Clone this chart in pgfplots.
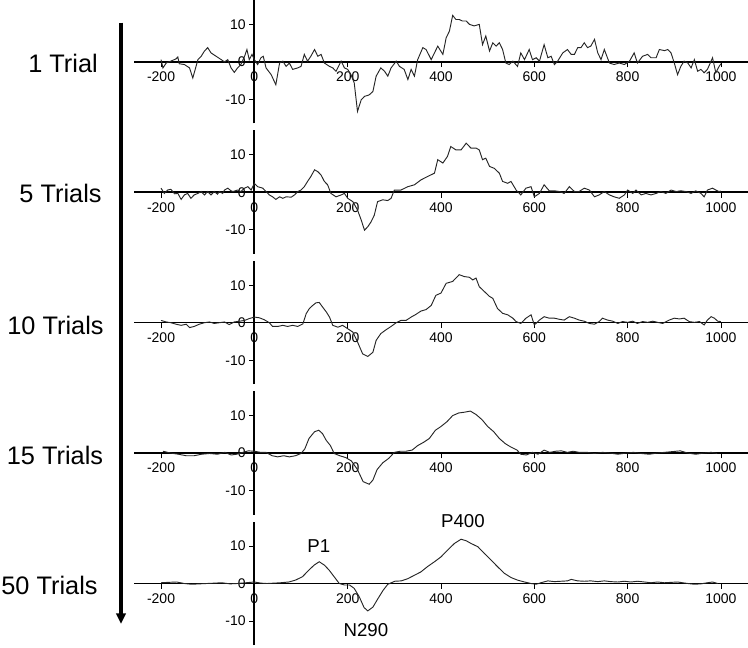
\documentclass[border=0pt]{standalone}
\usepackage{fontspec}
\setmainfont{Liberation Sans}
\usepackage{pgfplots}
\usepackage{pgfplotstable}
\pgfplotsset{compat=1.18}
\usetikzlibrary{arrows.meta}

% ERP waveforms (ms, microvolts)
\pgfplotstableread{
t v
-200 0.6
-196 -1.6
-189 -0.3
-179 0.2
-168 0.8
-164 1.3
-161 -0.5
-150 -0.7
-139 -1.6
-132 -4.3
-121 0.6
-114 1.5
-107 2.9
-100 3.8
-93 2.4
-82 1.5
-71 0.6
-64 0.0
-57 0.6
-50 -1.6
-43 -2.8
-36 -1.6
-29 -0.7
-21 1.5
-16 3.3
-11 0.6
-5 2.0
0 0.6
7 -0.7
14 1.1
19 1.5
25 -1.6
36 -3.4
46 -6.1
54 -0.3
61 0.2
68 -1.2
75 -0.3
82 -2.0
93 -1.6
100 -1.2
107 2.0
114 0.2
121 1.5
129 3.3
136 1.5
143 2.0
150 -0.3
161 -1.2
168 -1.6
175 -2.5
186 0.2
193 -1.6
200 -2.0
207 -3.4
214 -5.6
221 -13.2
229 -10.1
236 -9.2
246 -8.8
254 -7.9
261 -3.8
271 -1.6
279 -2.5
286 -3.8
293 -1.6
304 0.2
311 -1.2
321 -2.0
329 -4.7
336 -2.0
343 -3.8
350 0.6
361 3.8
368 3.3
379 0.6
386 2.4
393 4.2
404 2.0
411 6.4
418 8.2
425 12.4
432 11.3
439 11.3
446 10.9
454 10.9
461 10.0
471 9.6
482 10.0
489 4.6
496 6.9
504 2.9
511 5.1
518 4.2
525 5.1
532 3.3
539 -0.3
546 -0.7
554 0.2
564 -1.2
571 2.4
579 0.6
589 3.3
596 0.6
604 1.1
611 0.2
621 4.6
629 1.1
636 1.5
643 -0.7
650 0.2
661 2.4
671 3.3
679 2.0
686 2.0
693 3.8
700 3.8
707 5.1
714 3.8
721 4.2
729 6.0
736 2.4
743 0.6
750 3.3
761 -0.3
771 -0.7
782 -0.3
793 -0.7
804 0.2
814 2.4
821 -0.3
832 1.5
843 2.0
850 1.1
861 1.1
868 3.3
879 3.0
886 3.3
893 2.4
900 -0.3
907 -3.4
914 -1.2
921 0.2
929 -0.3
936 -1.6
943 0.6
950 -2.5
957 -2.0
964 -2.9
971 -2.0
982 1.1
989 -2.9
996 -1.2
1000 -0.5
}\trialA

\pgfplotstableread{
t v
-200 1.1
-193 -0.3
-186 0.6
-179 0.8
-171 -0.4
-164 -0.3
-157 -1.9
-150 -0.7
-143 -0.3
-136 -1.6
-129 -0.7
-121 -0.3
-114 0.2
-107 -0.7
-100 0.2
-93 -0.7
-86 0.2
-79 -0.5
-75 0.2
-68 -0.3
-64 0.6
-57 1.1
-50 0.4
-46 0.2
-36 0.6
-29 0.2
-21 1.1
-14 1.5
-7 0.6
0 2.4
7 1.5
18 1.1
25 0.2
32 -0.7
39 -1.2
46 -1.9
54 -1.2
61 -1.6
68 -1.2
79 -1.3
86 -0.7
93 0.2
100 0.6
107 1.5
114 2.9
121 4.2
129 6.0
136 5.5
143 4.6
150 2.9
157 2.0
164 -0.3
175 -1.2
186 -0.7
193 -0.3
200 -1.6
211 -2.5
221 -4.7
229 -7.4
236 -10.1
243 -9.2
250 -7.9
257 -6.1
264 -2.5
275 -2.0
286 -2.2
293 -1.6
300 0.6
314 0.6
329 1.5
343 2.0
357 3.3
371 4.2
386 5.1
393 8.7
404 7.8
414 9.6
421 12.2
432 11.3
443 11.3
454 13.1
464 11.8
475 11.8
482 11.3
489 8.7
496 9.1
504 6.9
514 6.4
525 5.1
532 2.9
543 2.4
550 2.9
561 0.6
571 -0.7
582 1.1
593 1.5
600 -1.2
611 -0.3
621 2.0
632 0.4
643 0.4
654 0.2
664 -0.3
675 1.5
686 0.2
696 0.2
707 1.1
718 0.6
729 -1.2
739 -0.7
750 0.2
761 -0.7
771 -1.2
782 -1.6
793 -0.7
800 0.6
811 -0.3
818 0.6
829 -0.7
839 -0.3
850 -0.7
861 -0.3
871 0.2
882 -0.3
893 0.6
904 0.2
914 0.4
925 0.2
936 -0.3
946 0.4
957 -0.3
964 -1.2
971 0.6
982 1.1
989 0.6
996 0.2
1000 0.3
}\trialB

\pgfplotstableread{
t v
-200 0.6
-189 0.2
-179 0.0
-168 -0.4
-157 -0.7
-146 -0.4
-139 -1.3
-129 -1.0
-118 -0.4
-107 0.0
-96 0.2
-86 -0.2
-75 0.0
-64 0.2
-54 -0.5
-43 0.2
-32 0.4
-21 0.6
-11 1.1
0 1.5
11 1.3
21 0.8
32 0.0
39 -1.0
50 -1.0
61 -0.7
71 -1.0
82 -0.7
93 -1.0
104 -0.3
111 2.4
118 3.8
125 4.6
132 5.3
139 5.4
146 4.2
154 2.9
161 1.5
168 -0.7
179 -1.2
189 -0.7
200 -1.6
211 -2.5
221 -5.1
232 -8.3
243 -9.0
254 -7.9
261 -4.7
271 -2.9
282 -1.9
293 -1.0
304 0.0
314 0.6
325 0.6
336 1.5
346 2.2
357 3.1
368 3.5
379 4.6
389 7.3
400 7.9
411 10.5
425 11.0
439 12.8
450 12.3
461 12.1
468 11.4
475 11.9
482 9.6
493 8.3
504 7.0
511 6.5
521 3.8
532 2.5
543 2.1
554 1.2
561 0.3
571 -0.2
582 1.2
593 2.1
600 -0.6
611 0.7
621 1.6
632 1.2
643 1.2
654 0.9
664 0.7
675 1.6
686 1.2
696 0.7
707 0.4
718 -0.2
729 -0.4
739 0.3
746 1.2
757 0.7
768 0.4
779 -0.2
789 0.3
800 0.1
811 0.4
821 -0.2
832 0.3
843 0.1
854 0.4
864 0.1
875 -0.2
889 0.7
900 1.2
911 1.0
921 1.2
932 0.3
943 0.1
954 0.3
964 -0.6
971 0.7
979 1.6
986 1.2
993 0.4
1000 0.3
}\trialC

\pgfplotstableread{
t v
-196 0.5
-179 0.0
-163 -0.3
-146 -0.7
-129 -0.7
-113 -0.3
-96 -0.1
-79 -0.3
-63 0.2
-50 -0.5
-38 -0.3
-25 0.2
-13 0.6
0 0.5
13 0.2
25 0.2
38 -0.7
50 -1.0
63 -0.7
75 -1.0
88 -0.7
100 -0.1
108 1.1
117 3.9
129 5.7
138 6.1
146 5.2
154 3.4
163 2.0
171 -0.1
183 -0.7
196 -1.2
208 -2.1
221 -4.4
233 -7.6
246 -8.3
254 -7.2
263 -4.4
275 -2.6
288 -1.4
300 0.2
313 0.5
325 0.5
338 0.8
350 2.0
363 2.9
375 3.9
388 6.1
400 7.1
413 8.4
425 10.0
438 10.7
450 10.9
463 11.2
475 10.3
488 8.9
500 7.1
513 5.7
525 3.9
538 2.5
550 1.6
563 0.8
571 -0.3
583 -0.5
596 0.2
608 -0.3
621 0.8
633 0.2
646 0.5
658 0.6
671 0.2
683 0.5
696 0.2
713 0.2
729 -0.1
746 0.2
763 0.0
779 -0.3
796 0.0
813 0.2
829 -0.1
846 -0.3
863 0.0
879 0.2
896 0.4
913 0.6
929 0.0
946 -0.3
963 0.0
979 0.2
992 -0.1
}\trialD

\pgfplotstableread{
t v
-200 0.2
-185 0.3
-167 0.4
-150 0.0
-135 -0.2
-118 -0.1
-102 0.0
-85 0.1
-70 0.2
-52 -0.1
-37 0.0
-18 0.2
0 0.4
14 0.1
27 0.0
42 0.1
56 0.2
74 0.4
88 0.9
103 1.8
117 3.6
128 4.9
139 5.8
150 4.9
160 3.6
171 1.8
182 0.0
193 -0.4
204 -0.4
214 -1.3
225 -3.6
235 -6.4
243 -7.3
254 -6.3
265 -4.0
276 -1.8
286 -0.2
301 0.6
315 0.7
329 1.3
343 2.2
357 3.1
371 4.5
386 5.8
400 7.1
414 8.9
429 10.7
443 11.8
454 11.4
464 10.7
479 9.8
493 8.0
507 6.3
521 4.5
536 2.7
550 1.6
564 0.9
579 0.4
593 0.0
604 -0.2
614 0.2
629 0.7
643 0.5
657 0.6
671 0.7
679 1.1
693 0.7
707 0.6
721 0.7
736 0.5
750 0.7
764 0.5
779 0.4
793 0.6
807 0.4
821 0.6
836 0.4
850 0.2
864 0.4
879 0.2
893 0.3
907 0.4
929 0.0
943 -0.2
957 -0.1
971 0.2
982 0.4
993 0.0
}\trialE

\pgfplotsset{
  erp/.style={
    width=460.5pt, height=92.55pt, scale only axis,
    anchor=north west,
    xmin=-258, xmax=1058, ymin=-16.4, ymax=16.5,
    axis lines=middle,
    x axis line style={line width=1.2pt, -},
    y axis line style={line width=1.5pt, -},
    hide obscured x ticks=false,
    hide obscured y ticks=false,
    xtick={-200,0,200,400,600,800,1000},
    xticklabels={-200,0,200,400,600,800,1000},
    ytick={-10,0,10},
    yticklabels={-10,0,10},
    tick align=outside,
    major tick length=4pt,
    tick style={black, line width=0.6pt},
    tick label style={font=\fontsize{10.5}{12}\selectfont},
    yticklabel style={xshift=1pt},
    clip=false,
  },
  trace/.style={black!85, line width=0.7pt, mark=none},
}

\begin{document}
\begin{tikzpicture}
\path[use as bounding box] (0,0) rectangle (561pt,-485.25pt);

\begin{axis}[erp, at={(100.5pt,0pt)}]
\addplot[trace] table[x=t,y=v] {\trialA};
\end{axis}
\begin{axis}[erp, at={(100.5pt,-97.8pt)}]
\addplot[trace] table[x=t,y=v] {\trialB};
\end{axis}
\begin{axis}[erp, at={(100.5pt,-195.6pt)}]
\addplot[trace] table[x=t,y=v] {\trialC};
\end{axis}
\begin{axis}[erp, at={(100.5pt,-293.4pt)}]
\addplot[trace] table[x=t,y=v] {\trialD};
\end{axis}
\begin{axis}[erp, at={(100.5pt,-391.2pt)}]
\addplot[trace] table[x=t,y=v] {\trialE};
\node[font=\fontsize{14}{16}\selectfont] at (axis cs:138,9.9) {P1};
\node[font=\fontsize{14}{16}\selectfont] at (axis cs:239,-12.5) {N290};
\node[font=\fontsize{14}{16}\selectfont] at (axis cs:447,16.6) {P400};
\end{axis}

\begin{scope}[font=\fontsize{19}{21}\selectfont]
\node at (47.25pt,-47.25pt) {1 Trial};
\node at (45.4pt,-144.75pt) {5 Trials};
\node at (41.6pt,-243.75pt) {10 Trials};
\node at (41.25pt,-341.25pt) {15 Trials};
\node at (37.1pt,-438.75pt) {50 Trials};
\end{scope}

\draw[line width=2.4pt, -{Triangle[length=8pt,width=7pt]}] (90.75pt,-17pt) -- (90.75pt,-468pt);
\end{tikzpicture}
\end{document}
